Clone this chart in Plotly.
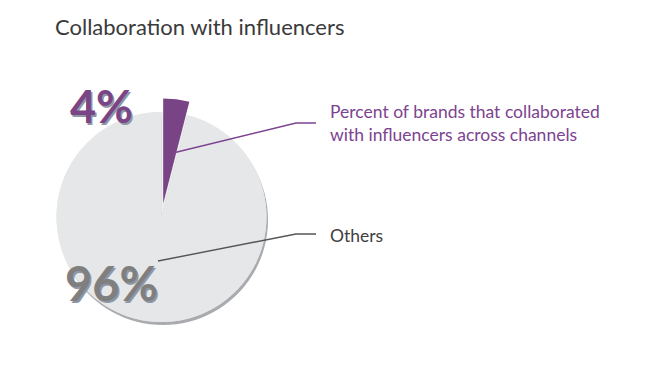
import plotly.graph_objects as go

W, H = 655, 388
OFF = 8  # page body margin in the browser

categories = ["Percent of brands that collaborated<br>with influencers across channels", "Others"]
values = [4, 96]
slice_colors = ["#784486", "#e6e7e8"]
label_colors = ["#7c4390", "#404040"]
pct_colors = ["#7a4586", "#7f7f7f"]

def px(x):
    return (x - OFF) / W

def py(y):
    return 1 - (y - OFF) / H

cx, cy, r = 161.5, 217, 105
pull = 0.13

def dom(rad, ox=0, oy=0):
    return dict(x=[px(cx + ox - rad), px(cx + ox + rad)],
                y=[py(cy + oy + rad), py(cy + oy - rad)])

fig = go.Figure()
# shadow
fig.add_trace(go.Pie(values=values, labels=categories, sort=False, direction="clockwise",
                     marker=dict(colors=["#a9abae", "#a9abae"], line=dict(width=0)),
                     textinfo="none", hoverinfo="skip", domain=dom(r, 1.5, 3), showlegend=False))
# base disc
fig.add_trace(go.Pie(values=values, labels=categories, sort=False, direction="clockwise",
                     marker=dict(colors=["#eeeff0", slice_colors[1]], line=dict(width=0)),
                     textinfo="none", hoverinfo="skip", domain=dom(r), showlegend=False))
# main pie
fig.add_trace(go.Pie(values=values, labels=categories, sort=False, direction="clockwise",
                     pull=[pull, 0],
                     marker=dict(colors=slice_colors, line=dict(width=0)),
                     textinfo="none", hoverinfo="label+percent", domain=dom(r * (1 + pull)),
                     showlegend=False))

# leader lines (pixel coordinates of the callouts)
leaders = [
    [(173, 153), (296, 123), (316, 123)],
    [(158, 261), (296, 234), (316, 234)],
]
line_colors = ["#7c4390", "#555555"]
shapes = []
for pts, col in zip(leaders, line_colors):
    path = "M " + " L ".join(f"{px(x)},{py(y)}" for x, y in pts)
    shapes.append(dict(type="path", path=path, xref="paper", yref="paper",
                       line=dict(color=col, width=1.4)))

annotations = []
label_pos = [(328, 123), (328, 235)]
for cat, col, (x, y) in zip(categories, label_colors, label_pos):
    annotations.append(dict(text=cat, x=px(x), y=py(y), xref="paper", yref="paper",
                            xanchor="left", yanchor="middle", align="left", showarrow=False,
                            font=dict(family="Lato", size=17.5, color=col)))

pct_pos = [(101, 106, 45), (111, 283, 47)]
for v, col, (x, y, s) in zip(values, pct_colors, pct_pos):
    annotations.append(dict(text=f"<b>{v}%</b>", x=px(x), y=py(y),
                            xref="paper", yref="paper", xanchor="center", yanchor="middle",
                            showarrow=False,
                            font=dict(family="Lato", size=s, color=col,
                                      shadow="1.5px 1.5px 0px #8e97a6")))

fig.update_layout(
    width=W, height=H,
    margin=dict(l=0, r=0, t=0, b=0),
    paper_bgcolor="white", plot_bgcolor="white",
    title=dict(text="Collaboration with influencers", x=px(55), xanchor="left",
               y=py(27), yanchor="middle",
               font=dict(family="Lato", size=22, color="#3a3a3a")),
    shapes=shapes, annotations=annotations,
)

fig.write_html("out.html")
